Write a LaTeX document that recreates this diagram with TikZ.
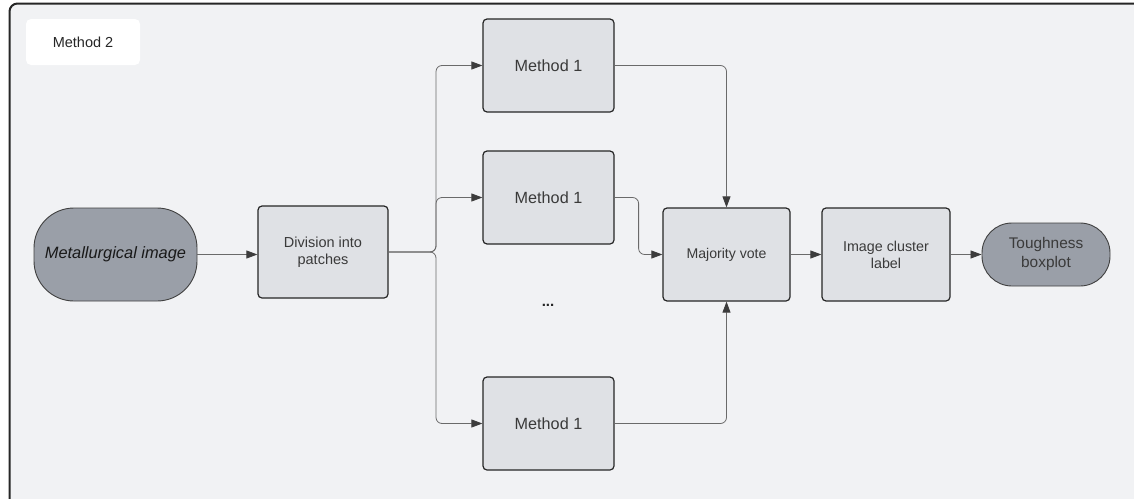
\documentclass[tikz,border=0pt]{standalone}
\usepackage{fontspec}
\setmainfont{Liberation Sans}
\usetikzlibrary{arrows.meta}
\definecolor{panel}{HTML}{F1F2F4}
\definecolor{boxfill}{HTML}{DFE1E5}
\definecolor{termfill}{HTML}{9A9FA8}
\definecolor{txt}{HTML}{3A3A3A}
\definecolor{wire}{HTML}{6A6A6A}
\definecolor{tip}{HTML}{3C3C3C}
\tikzset{
  x=1pt, y=-1pt,
  procbox/.style={draw=black!85, line width=1.2pt, fill=boxfill, rounded corners=4pt,
    minimum width=130pt, minimum height=92pt, align=center, text=txt,
    font=\fontsize{14.3}{17}\selectfont, inner sep=0pt},
  termbox/.style={draw=black!75, line width=0.9pt, fill=termfill, rounded corners=30pt,
    align=center, inner sep=0pt},
  wirearrow/.style={draw=wire, line width=0.8pt, rounded corners=6pt,
    -{Triangle[length=11pt,width=8pt,color=tip]}},
}
\begin{document}
\begin{tikzpicture}
\useasboundingbox (0,0) rectangle (1134,498);
\fill[white] (0,0) rectangle (1134,498);
\begin{scope}
\clip (0,0) rectangle (1134,498);
\draw[line width=2pt, draw=black!85, fill=panel, rounded corners=8pt] (9.5,3.5) rectangle (1160,520);
\end{scope}

% caption tag
\node[fill=white, rounded corners=5pt, minimum width=114pt, minimum height=46pt,
  font=\fontsize{14.5}{17}\selectfont, text=black!85] (tag) at (83,42) {Method 2};

% pipeline
\node[termbox, minimum width=163pt, minimum height=93pt, rounded corners=40pt, text=black!90,
  font=\fontsize{16.4}{19}\selectfont]
  (img) at (115.5,254.5) {\itshape Metallurgical image};
\node[procbox, font=\fontsize{14.5}{17}\selectfont] (div) at (323,252) {Division into\\patches};
\node[procbox, minimum width=131pt, minimum height=93pt, font=\fontsize{16.2}{19}\selectfont]
  (m1) at (548.5,65.5) {Method 1};
\node[procbox, minimum width=131pt, minimum height=93pt, font=\fontsize{16.2}{19}\selectfont]
  (m2) at (548.5,197.5) {Method 1};
\node[procbox, minimum width=131pt, minimum height=93pt, font=\fontsize{16.2}{19}\selectfont]
  (m3) at (548.5,423.5) {Method 1};
\node[font=\bfseries\fontsize{15}{17}\selectfont, text=black!85] (dots) at (548,305) {...};
\node[procbox, minimum width=127pt, minimum height=93pt, font=\fontsize{14.1}{17}\selectfont]
  (vote) at (726.5,254.5) {Majority vote};
\node[procbox, minimum width=128pt, minimum height=93pt] (clus) at (886,254.5) {Image cluster\\label};
\node[termbox, minimum width=128pt, minimum height=63pt, text=txt,
  font=\fontsize{15.4}{19}\selectfont] (tough) at (1046,254.5) {Toughness\\boxplot};

% connectors
\coordinate (fork) at (436,252);
\draw[wirearrow] (img.east) -- (div.west |- img.east);
\draw[wirearrow] (div.east) -- (fork) |- (m1.west);
\draw[wirearrow] (div.east) -- (fork) |- (m2.west);
\draw[wirearrow] (div.east) -- (fork) |- (m3.west);
\draw[wirearrow] (m1.east) -| (vote.north);
\draw[wirearrow] (m2.east) -- ++(24,0) |- (vote.west);
\draw[wirearrow] (m3.east) -| (vote.south);
\draw[wirearrow] (vote.east) -- (clus.west);
\draw[wirearrow] (clus.east) -- (tough.west);
\end{tikzpicture}
\end{document}
